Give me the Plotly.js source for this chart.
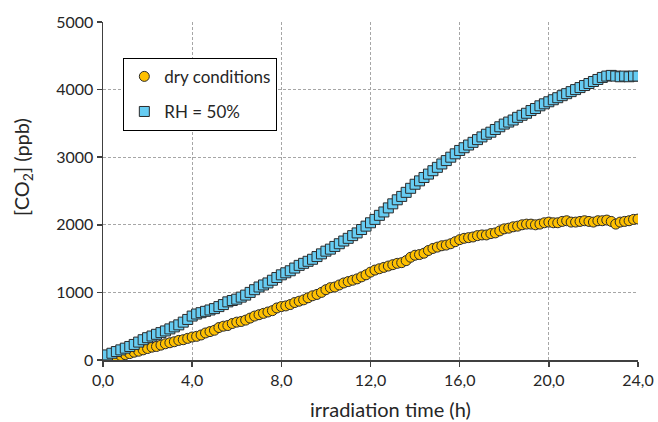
<!DOCTYPE html>
<html>
<head>
<meta charset="utf-8">
<script src="https://cdn.plot.ly/plotly-3.0.1.min.js"></script>
<style>html,body{margin:0;padding:0;background:#fff;}#chart{width:658px;height:422px;}</style>
</head>
<body>
<div id="chart"></div>
<script>
// irradiation time (h)
const timeH = [0.0,0.2,0.4,0.6,0.8,1.0,1.2,1.4,1.6,1.8,2.0,2.2,2.4,2.6,2.8,3.0,3.2,3.4,3.6,3.8,
4.0,4.2,4.4,4.6,4.8,5.0,5.2,5.4,5.6,5.8,6.0,6.2,6.4,6.6,6.8,7.0,7.2,7.4,7.6,7.8,
8.0,8.2,8.4,8.6,8.8,9.0,9.2,9.4,9.6,9.8,10.0,10.2,10.4,10.6,10.8,11.0,11.2,11.4,11.6,11.8,
12.0,12.2,12.4,12.6,12.8,13.0,13.2,13.4,13.6,13.8,14.0,14.2,14.4,14.6,14.8,15.0,15.2,15.4,15.6,15.8,
16.0,16.2,16.4,16.6,16.8,17.0,17.2,17.4,17.6,17.8,18.0,18.2,18.4,18.6,18.8,19.0,19.2,19.4,19.6,19.8,
20.0,20.2,20.4,20.6,20.8,21.0,21.2,21.4,21.6,21.8,22.0,22.2,22.4,22.6,22.8,23.0,23.2,23.4,23.6,23.8,24.0];

// [CO2] (ppb), dry conditions
const dryCO2 = [10,20,35,50,65,80,95,115,130,150,170,190,200,220,240,255,270,290,300,320,
340,350,370,400,420,440,480,500,510,540,560,570,590,620,650,670,690,710,730,770,
790,800,820,850,870,890,920,950,970,1000,1040,1070,1080,1110,1140,1160,1180,1200,1230,1260,
1300,1330,1350,1370,1390,1410,1430,1440,1470,1520,1550,1560,1580,1620,1650,1670,1690,1700,1720,1750,
1780,1800,1810,1820,1840,1850,1850,1870,1880,1910,1940,1950,1970,1980,2000,2010,2010,2000,2010,2030,
2040,2030,2030,2050,2060,2040,2040,2050,2060,2050,2040,2060,2060,2070,2050,2010,2040,2050,2060,2080,2085];

// [CO2] (ppb), RH = 50%
const rhCO2 = [50,75,100,125,150,175,200,230,265,300,330,355,380,405,430,460,490,520,560,600,
650,680,700,720,740,760,790,820,860,880,900,930,960,1000,1040,1080,1110,1140,1180,1220,
1260,1290,1320,1360,1400,1430,1460,1490,1530,1570,1610,1640,1680,1720,1760,1800,1840,1880,1930,1980,
2030,2080,2140,2190,2250,2310,2370,2420,2480,2540,2600,2650,2700,2750,2800,2850,2900,2950,3000,3050,
3100,3140,3180,3220,3260,3300,3340,3370,3410,3450,3490,3520,3550,3590,3620,3650,3690,3720,3760,3790,
3820,3850,3880,3910,3940,3970,4000,4030,4060,4090,4120,4150,4180,4200,4210,4200,4190,4200,4190,4200,4200];

const seriesNames = ['dry conditions', 'RH = 50%'];
const xTitle = 'irradiation time (h)';
const yTitle = '[CO<sub>2</sub>] (ppb)';

const FONT = 'Lato, "Open Sans", sans-serif';
const TXT = '#262626';

const traces = [
  {
    x: timeH, y: dryCO2, name: seriesNames[0], type: 'scatter', mode: 'markers',
    legendgroup: 'a',
    marker: {symbol: 'circle', size: 10, color: '#FFC000', line: {color: '#2b2b2b', width: 1}}
  },
  {
    x: timeH, y: rhCO2, name: seriesNames[1], type: 'scatter', mode: 'markers',
    legendgroup: 'b',
    marker: {symbol: 'square', size: 10, color: '#66CCF2', line: {color: '#2b2b2b', width: 1}}
  }
];

const layout = {
  width: 658, height: 422,
  margin: {l: 103, r: 20, t: 22, b: 61.5, pad: 0},
  paper_bgcolor: '#ffffff', plot_bgcolor: '#ffffff',
  separators: ',.',
  font: {family: FONT, size: 14, color: TXT},
  showlegend: true,
  legend: {
    x: 0.038, y: 0.894, xanchor: 'left', yanchor: 'top',
    bgcolor: '#ffffff', bordercolor: '#000000', borderwidth: 1,
    font: {family: FONT, size: 17, color: TXT},
    traceorder: 'grouped', tracegroupgap: 10
  },
  xaxis: {
    range: [0, 24], tickmode: 'linear', tick0: 0, dtick: 4, tickformat: '.1f',
    showline: true, linecolor: '#404040', linewidth: 1.5,
    ticks: 'outside', ticklen: 5, tickcolor: '#404040', tickwidth: 1.5,
    showgrid: true, gridcolor: '#a6a6a6', gridwidth: 1, griddash: '3px,2px',
    zeroline: false, mirror: false,
    tickfont: {family: FONT, size: 16, color: TXT}
  },
  yaxis: {
    range: [0, 5000], tickmode: 'linear', tick0: 0, dtick: 1000, tickformat: 'd',
    showline: true, linecolor: '#404040', linewidth: 1.5,
    ticks: 'outside', ticklen: 5, tickcolor: '#404040', tickwidth: 1.5,
    showgrid: true, gridcolor: '#a6a6a6', gridwidth: 1, griddash: '3px,2px',
    zeroline: false,
    tickfont: {family: FONT, size: 16, color: TXT}
  },
  annotations: [
    {text: xTitle, xref: 'paper', yref: 'paper', x: 0.537, y: -0.146,
     xanchor: 'center', yanchor: 'middle', showarrow: false,
     font: {family: FONT, size: 20, color: TXT}},
    {text: yTitle, xref: 'paper', yref: 'paper', x: -0.151, y: 0.572,
     xanchor: 'center', yanchor: 'middle', showarrow: false, textangle: -90,
     font: {family: FONT, size: 20, color: TXT}}
  ]
};

Plotly.newPlot('chart', traces, layout, {displayModeBar: false, staticPlot: true});
</script>
</body>
</html>
